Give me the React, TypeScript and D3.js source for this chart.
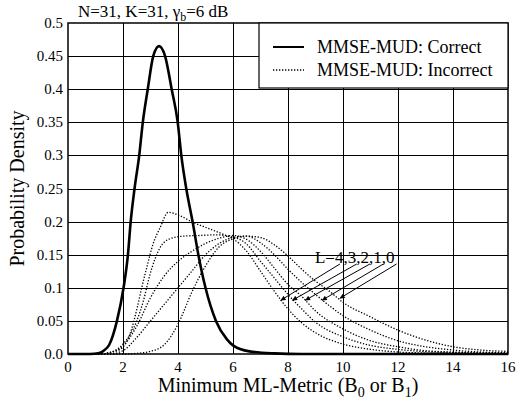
import React from 'react';
import * as d3 from 'd3';

// MMSE-MUD correct decision metric density
const correctX = [0, 0.8, 1.1, 1.3, 1.5, 1.78, 2.02, 2.18, 2.28, 2.42, 2.59, 2.72, 2.9, 3.1, 3.31, 3.53, 3.77, 3.99, 4.12, 4.3, 4.53, 4.74, 5.0, 5.38, 5.78, 6.0, 6.6, 7.5, 8.5, 16];
const correctY = [0, 0, 0.001, 0.005, 0.014, 0.05, 0.1, 0.15, 0.2, 0.25, 0.3, 0.35, 0.4, 0.45, 0.465, 0.45, 0.4, 0.35, 0.3, 0.25, 0.2, 0.15, 0.1, 0.05, 0.022, 0.013, 0.004, 0.001, 0, 0];

// MMSE-MUD incorrect, L = 4..0
const incorrectL4X = [0, 1.2, 1.5, 1.9, 2.26, 2.5, 2.68, 2.86, 3.1, 3.34, 3.65, 4.06, 4.54, 5.15, 5.75, 6.0, 6.5, 7, 7.5, 8, 8.5, 9, 10, 11, 12, 13, 14, 16];
const incorrectL4Y = [0, 0, 0.002, 0.007, 0.031, 0.067, 0.1, 0.13, 0.167, 0.19, 0.214, 0.209, 0.199, 0.189, 0.179, 0.174, 0.155, 0.125, 0.095, 0.068, 0.047, 0.032, 0.015, 0.007, 0.003, 0.0015, 0.001, 0];
const incorrectL3X = [0, 1.2, 1.5, 2, 2.5, 2.74, 2.98, 3.34, 3.7, 4.18, 4.78, 5.38, 5.86, 6.47, 7, 7.5, 8, 8.5, 9, 10, 11, 12, 13, 14, 16];
const incorrectL3Y = [0, 0, 0.002, 0.015, 0.05, 0.08, 0.12, 0.16, 0.174, 0.178, 0.179, 0.18, 0.178, 0.167, 0.14, 0.115, 0.09, 0.068, 0.048, 0.026, 0.013, 0.007, 0.0035, 0.002, 0.0005];
const incorrectL2X = [0, 1.2, 1.5, 2, 2.5, 3, 3.5, 4, 4.5, 5, 5.5, 6, 6.5, 7, 7.5, 8, 8.5, 9, 10, 11, 12, 13, 14, 16];
const incorrectL2Y = [0, 0, 0.002, 0.012, 0.042, 0.085, 0.118, 0.14, 0.155, 0.167, 0.175, 0.179, 0.173, 0.155, 0.13, 0.105, 0.087, 0.065, 0.038, 0.02, 0.011, 0.005, 0.003, 0.001];
const incorrectL1X = [0, 1.5, 2, 2.5, 3, 3.5, 4, 4.5, 5, 5.5, 6, 6.5, 7, 7.5, 8, 8.5, 9, 9.5, 10, 11, 12, 13, 14, 15, 16];
const incorrectL1Y = [0, 0, 0.005, 0.025, 0.05, 0.075, 0.1, 0.125, 0.15, 0.167, 0.176, 0.178, 0.168, 0.15, 0.128, 0.108, 0.09, 0.073, 0.058, 0.036, 0.02, 0.011, 0.006, 0.003, 0.002];
const incorrectL0X = [0, 2, 2.5, 3, 3.5, 4, 4.5, 5, 5.5, 6, 6.5, 7, 7.5, 8, 8.5, 9, 9.5, 10, 11, 12, 13, 14, 15, 16];
const incorrectL0Y = [0, 0, 0.001, 0.004, 0.014, 0.045, 0.093, 0.133, 0.162, 0.174, 0.178, 0.176, 0.165, 0.148, 0.128, 0.11, 0.095, 0.078, 0.056, 0.036, 0.021, 0.011, 0.006, 0.004];

const xTicks = [0, 2, 4, 6, 8, 10, 12, 14, 16];
const yTicks = [0, 0.05, 0.1, 0.15, 0.2, 0.25, 0.3, 0.35, 0.4, 0.45, 0.5];
const yTickLabels = ['0.0', '0.05', '0.1', '0.15', '0.2', '0.25', '0.3', '0.35', '0.4', '0.45', '0.5'];

// annotation arrows "L=4,3,2,1,0" (data units)
const arrowStartX = [9.89, 10.5, 10.98, 11.47, 11.95];
const arrowStartY = [0.136, 0.136, 0.136, 0.136, 0.136];
const arrowTipX = [7.73, 8.15, 8.62, 9.23, 9.88];
const arrowTipY = [0.081, 0.081, 0.081, 0.081, 0.084];

const serif: React.CSSProperties = { fontFamily: '\'Times New Roman\'' };

const width = 529;
const height = 401;
const marginTop = 23;
const marginRight = 21;
const marginBottom = 47;
const marginLeft = 68;

const x = d3.scaleLinear().domain([0, 16]).range([marginLeft, width - marginRight]);
const y = d3.scaleLinear().domain([0, 0.5]).range([height - marginBottom, marginTop]);

const line = d3.line<[number, number]>()
	.x(d => x(d[0]))
	.y(d => y(d[1]))
	.curve(d3.curveMonotoneX);

const zip = (xs: number[], ys: number[]) => xs.map((v, i) => [v, ys[i]] as [number, number]);

const incorrect = [
	zip(incorrectL4X, incorrectL4Y),
	zip(incorrectL3X, incorrectL3Y),
	zip(incorrectL2X, incorrectL2Y),
	zip(incorrectL1X, incorrectL1Y),
	zip(incorrectL0X, incorrectL0Y),
];

const crisp = (v: number) => Math.round(v) + 0.5;

const App: React.FC = () => {
	const legendX = 259;

	return (
		<svg
			width={width}
			height={height}
			style={{ position: 'absolute', left: 0, top: 0, display: 'block', background: '#fff', fontFamily: '\'Times New Roman\'' }}
		>
			<defs>
				<marker id="arrowhead" viewBox="0 0 10 10" refX={10} refY={5}
					markerWidth={7} markerHeight={5} markerUnits="userSpaceOnUse" orient="auto">
					<path d="M0,0 L10,5 L0,10 z" fill="#000" />
				</marker>
			</defs>

			{/* grid */}
			<g stroke="#000" strokeWidth={1} shapeRendering="crispEdges">
				{xTicks.slice(1, -1).map(d => (
					<line key={'v' + d} x1={crisp(x(d))} x2={crisp(x(d))} y1={y(0)} y2={y(0.5)} />
				))}
				{yTicks.slice(1, -1).map(d => (
					<line key={'h' + d} x1={x(0)} x2={x(16)} y1={crisp(y(d))} y2={crisp(y(d))} />
				))}
			</g>

			{/* incorrect (dotted) */}
			{incorrect.map((pts, i) => (
				<path key={'inc' + i} d={line(pts) || ''} fill="none" stroke="#000"
					strokeWidth={1.3} strokeDasharray="1.3,1.7" />
			))}

			{/* correct (solid) */}
			<path d={line(zip(correctX, correctY)) || ''} fill="none" stroke="#000" strokeWidth={2.6} />

			{/* frame */}
			<rect x={x(0)} y={y(0.5)} width={x(16) - x(0)} height={y(0) - y(0.5)}
				fill="none" stroke="#000" strokeWidth={1.5} />

			{/* tick labels */}
			<g style={serif} fontSize={15} textAnchor="middle">
				{xTicks.map(d => (
					<text key={'xt' + d} x={x(d)} y={y(0) + 18}>{d}</text>
				))}
			</g>
			<g style={serif} fontSize={15} textAnchor="end">
				{yTicks.map((d, i) => (
					<text key={'yt' + d} x={x(0) - 5} y={y(d) + 5}>{yTickLabels[i]}</text>
				))}
			</g>

			{/* axis titles */}
			<text style={serif} fontSize={20} textAnchor="middle" x={(x(0) + x(16)) / 2} y={392}>
				Minimum ML-Metric (B<tspan fontSize={14} dy={5}>0</tspan>
				<tspan dy={-5}> or B</tspan><tspan fontSize={14} dy={5}>1</tspan>
				<tspan dy={-5}>)</tspan>
			</text>
			<text style={serif} fontSize={20} textAnchor="middle"
				transform={`translate(24,${(y(0) + y(0.5)) / 2}) rotate(-90)`}>
				Probability Density
			</text>

			{/* title */}
			<text style={serif} fontSize={17} x={78} y={17}>
				N=31, K=31, {'\u03b3'}<tspan fontSize={12} dy={4}>b</tspan><tspan dy={-4}>=6 dB</tspan>
			</text>

			{/* legend */}
			<g>
				<rect x={legendX} y={y(0.5)} width={x(16) - legendX} height={65}
					fill="#fff" stroke="#000" strokeWidth={1.2} />
				<line x1={273} x2={304} y1={47} y2={47} stroke="#000" strokeWidth={2} />
				<line x1={273} x2={304} y1={70} y2={70} stroke="#000" strokeWidth={1.3} strokeDasharray="1.3,1.7" />
				<text style={serif} fontSize={18} x={317} y={53}>MMSE-MUD: Correct</text>
				<text style={serif} fontSize={18} x={317} y={76}>MMSE-MUD: Incorrect</text>
			</g>

			{/* annotation */}
			<text style={serif} fontSize={17} x={x(8.98)} y={y(0.138)}>L=4,3,2,1,0</text>
			<g stroke="#000" strokeWidth={1}>
				{arrowStartX.map((d, i) => (
					<line key={'ar' + i} x1={x(d)} y1={y(arrowStartY[i])}
						x2={x(arrowTipX[i])} y2={y(arrowTipY[i])} markerEnd="url(#arrowhead)" />
				))}
			</g>
		</svg>
	);
};

export default App;
